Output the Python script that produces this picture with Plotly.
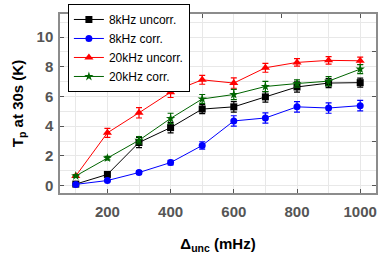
import plotly.graph_objects as go

x = [100, 200, 300, 400, 500, 600, 700, 800, 900, 1000]

unc8 = [0.10, 0.75, 2.90, 3.90, 5.15, 5.30, 5.97, 6.64, 6.90, 6.93]
unc8_err = [0.06, 0.10, 0.35, 0.35, 0.30, 0.35, 0.35, 0.35, 0.30, 0.30]

cor8 = [0.08, 0.34, 0.88, 1.55, 2.70, 4.35, 4.55, 5.30, 5.22, 5.38]
cor8_err = [0.05, 0.08, 0.12, 0.15, 0.25, 0.35, 0.35, 0.35, 0.35, 0.35]

unc20 = [0.65, 3.55, 4.90, 6.28, 7.12, 6.90, 7.93, 8.29, 8.43, 8.40]
unc20_err = [0.08, 0.30, 0.35, 0.35, 0.30, 0.35, 0.30, 0.25, 0.25, 0.25]

cor20 = [0.65, 1.85, 3.05, 4.52, 5.83, 6.13, 6.67, 6.87, 7.03, 7.84]
cor20_err = [0.08, 0.12, 0.25, 0.35, 0.30, 0.35, 0.35, 0.25, 0.30, 0.30]

series = [
    ("8kHz uncorr.", unc8, unc8_err, "black", "square", 7),
    ("8kHz corr.", cor8, cor8_err, "blue", "circle", 7),
    ("20kHz uncorr.", unc20, unc20_err, "red", "triangle-up", 8),
    ("20kHz corr.", cor20, cor20_err, "#006400", "star", 7),
]

fig = go.Figure()
for name, ys, err, col, sym, sz in series:
    fig.add_trace(go.Scatter(
        x=x, y=ys, name=name, mode="lines+markers",
        line=dict(color=col, width=1),
        marker=dict(color=col, symbol=sym, size=sz),
        error_y=dict(type="data", array=err, color=col, thickness=1.2, width=3),
    ))

# invisible trace for mirrored axes
fig.add_trace(go.Scatter(x=[100], y=[0], xaxis="x2", yaxis="y2",
                         mode="markers", marker=dict(opacity=0),
                         showlegend=False, hoverinfo="skip"))

grid = "#e8e8e8"
frame = "#8c8c8c"
tickfont = dict(size=15, color="#555555", weight="bold")
fig.update_layout(
    width=390, height=260,
    margin=dict(l=60, r=14, t=14, b=67, autoexpand=False),
    paper_bgcolor="white", plot_bgcolor="white",
    font=dict(family="Liberation Sans, Arial, sans-serif", color="#555555"),
    xaxis=dict(
        range=[50, 1050], tickvals=[200, 400, 600, 800, 1000],
        tickfont=tickfont, ticklabelstandoff=4,
        showgrid=False,
        minor=dict(tickvals=[100, 200, 300, 400, 500, 600, 700, 800, 900, 1000],
                   showgrid=True, gridcolor=grid, gridwidth=1),
        ticks="inside", ticklen=4, tickcolor="#555555",
        showline=True, linecolor=frame, linewidth=1.5,
        zeroline=False, automargin=False,
        title=dict(text="<b>Δ<sub>unc</sub> (mHz)</b>", font=dict(size=15, color="black"), standoff=20),
    ),
    yaxis=dict(
        range=[-0.5, 11.55], tickvals=[0, 2, 4, 6, 8, 10],
        tickfont=tickfont, ticklabelstandoff=2,
        showgrid=False,
        minor=dict(tickvals=list(range(0, 12)), showgrid=True, gridcolor=grid, gridwidth=1),
        ticks="inside", ticklen=4, tickcolor="#555555",
        showline=True, linecolor=frame, linewidth=1.5,
        zeroline=False, automargin=False,
        title=dict(text="<b>T<sub>p</sub> at 30s (K)</b>", font=dict(size=15, color="black"), standoff=9),
    ),
    xaxis2=dict(
        overlaying="x", side="top", range=[50, 1050],
        tickvals=[250, 500, 750, 1000], showticklabels=False,
        ticks="inside", ticklen=4, tickcolor="#555555",
        showgrid=False, zeroline=False, automargin=False,
        showline=True, linecolor=frame, linewidth=1.5,
    ),
    yaxis2=dict(
        overlaying="y", side="right", range=[-0.5, 11.55],
        tickvals=[0, 3, 6, 9], showticklabels=False,
        ticks="inside", ticklen=4, tickcolor="#555555",
        showgrid=False, zeroline=False, automargin=False,
        showline=True, linecolor=frame, linewidth=1.5,
    ),
    legend=dict(
        x=0.025, y=1.056, xanchor="left", yanchor="top",
        bgcolor="white", bordercolor="black", borderwidth=1,
        font=dict(size=12, color="black"),
        tracegroupgap=0, itemwidth=30,
    ),
    showlegend=True,
)

fig.write_html("out.html", config={"displayModeBar": False},
               post_script="document.body.style.margin='0';")
